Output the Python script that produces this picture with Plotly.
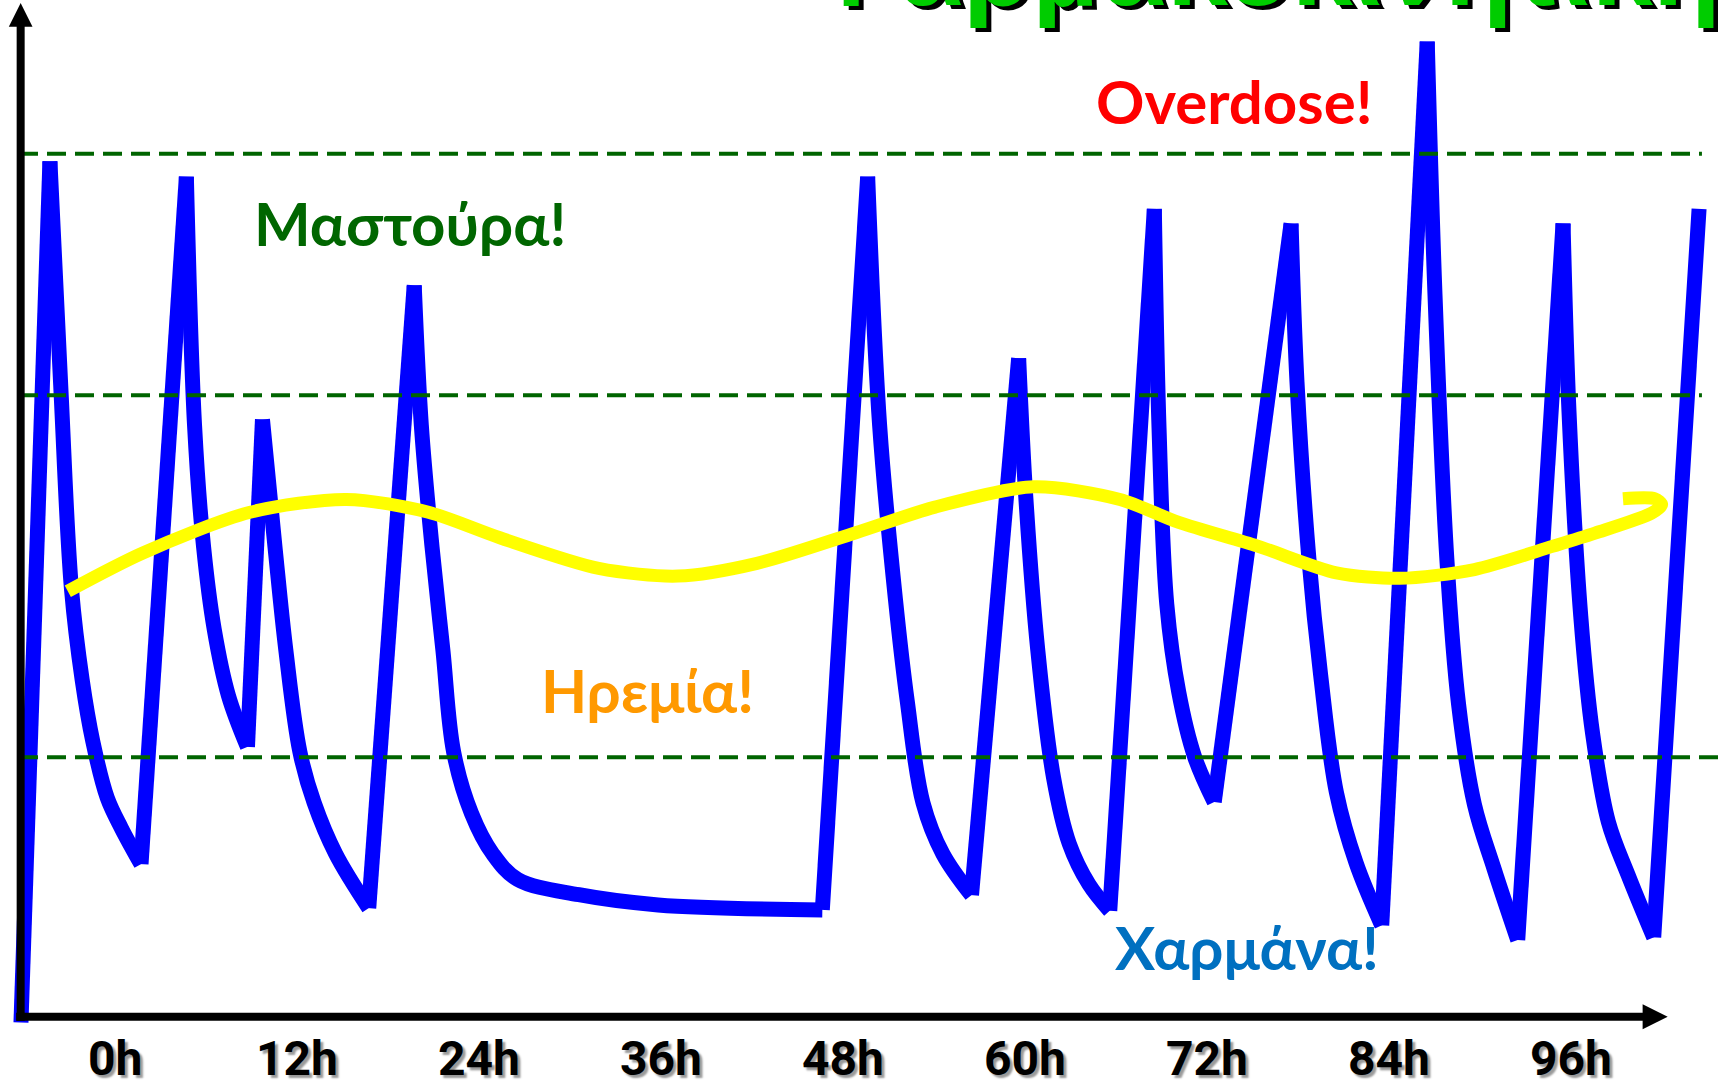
import plotly.graph_objects as go

# ---------------- data (time in hours, level in arbitrary units) ----------------
conc_time = [-6.22, -4.31, -3.6, -2.89, -2.18, -1.48, -0.53, 0.40, 1.70,
             4.69, 5.23, 5.83, 6.53, 7.47, 8.72,
             9.71, 10.54, 11.25, 12.18, 13.12, 14.54, 16.72,
             19.72, 20.19, 20.90, 21.61, 22.32, 23.49, 24.90, 26.55, 30.58, 35.81, 46.64,
             49.63, 50.42, 51.46, 52.24, 53.28, 54.59, 56.48,
             59.59, 60.06, 60.85, 61.89, 62.93, 64.23, 65.60,
             68.54, 68.85, 69.36, 70.15, 71.19, 72.49,
             77.56, 77.95, 78.73, 79.51, 80.55, 81.85, 83.54,
             86.54, 87.05, 87.83, 88.61, 89.65, 90.95, 92.51,
             95.50, 95.89, 96.67, 97.45, 98.49, 99.79, 101.48,
             104.47]
conc_level = [-0.78, 99.14, 73.2, 49.56, 38.95, 31.83, 25.30, 21.79, 17.60,
              97.36, 68.49, 54.32, 44.82, 37.13, 31.2,
              69.19, 54.32, 42.44, 30.61, 24.71, 18.79, 12.5,
              84.75, 68.49, 54.32, 42.44, 30.61, 23.52, 18.79, 15.82, 14.05, 12.87, 12.29,
              97.36, 68.49, 48.36, 36.53, 24.71, 18.79, 14.0,
              76.29, 60.20, 42.44, 27.64, 19.97, 15.25, 12.2,
              93.62, 68.17, 47.76, 37.55, 30.08, 24.8,
              91.93, 73.51, 53.13, 39.52, 25.91, 17.73, 10.5,
              113.03, 83.75, 53.13, 36.11, 24.54, 17.05, 8.8,
              91.93, 70.14, 46.32, 32.72, 22.49, 16.33, 9.1,
              93.62]

trend_time = [-3.13, 1.82, 8.89, 15.25, 20.66, 25.37, 31.89, 37.11, 42.33, 48.85,
              54.07, 60.58, 66.27, 70.15, 75.35, 80.55, 84.71, 89.65, 94.85, 97.61,
              101.34, 102.0, 101.55, 99.45]
trend_level = [49.26, 53.70, 58.42, 59.91, 58.42, 55.46, 51.91, 51.02, 52.50, 56.05,
               59.02, 61.38, 59.91, 57.24, 54.49, 51.40, 50.76, 51.78, 54.49, 56.0,
               58.32, 59.3, 59.99, 59.99]

tick_hours = [0, 12, 24, 36, 48, 60, 72, 84, 96]
tick_labels = ["0h", "12h", "24h", "36h", "48h", "60h", "72h", "84h", "96h"]

threshold_levels = [100, 72, 30]

zone_labels = ["Overdose!", "Μαστούρα!", "Ηρεμία!", "Χαρμάνα!"]
zone_colors = ["#FF0000", "#006600", "#FF9900", "#0070C0"]

title_text = "Φαρμακοκινητική"

# ---------------- layout constants ----------------
X_RANGE = [-7.603, 105.72]
Y_RANGE = [-7.56, 117.85]
AXIS_X = -6.24          # vertical axis position (hours)
AXIS_Y = -0.1           # horizontal axis position (level)
zone_pos = [(73.85, 106.15), (19.44, 92.0), (35.14, 37.78), (74.65, 7.97)]
threshold_end = [104.66, 104.66, X_RANGE[1]]
TICK_LABEL_Y = -4.9

fig = go.Figure()

# split the concentration curve into rises (straight) and decays (smooth)
n = len(conc_level)
turns = [i for i in range(1, n - 1)
         if (conc_level[i] - conc_level[i - 1]) * (conc_level[i + 1] - conc_level[i]) < 0]
bounds = [0] + turns + [n - 1]
for a, b in zip(bounds[:-1], bounds[1:]):
    rising = conc_level[b] > conc_level[a]
    fig.add_trace(go.Scatter(
        x=conc_time[a:b + 1], y=conc_level[a:b + 1], mode="lines",
        line=dict(color="#0000FF", width=15,
                  shape="linear" if rising else "spline",
                  **({} if rising else {"smoothing": 1.0})),
        hoverinfo="skip", cliponaxis=False))

fig.add_trace(go.Scatter(
    x=trend_time, y=trend_level, mode="lines",
    line=dict(color="#FFFF00", width=13, shape="spline", smoothing=0.8),
    hoverinfo="skip", cliponaxis=False))

shapes = []
for lvl, xe in zip(threshold_levels, threshold_end):
    shapes.append(dict(type="line", xref="x", yref="y", x0=-6.35, x1=xe, y0=lvl, y1=lvl,
                       line=dict(color="#006400", width=4, dash="19px,9px"), layer="above"))

# axes with arrows
shapes.append(dict(type="line", xref="x", yref="y", x0=AXIS_X, x1=AXIS_X, y0=-0.6, y1=114.9,
                   line=dict(color="black", width=8), layer="above"))
shapes.append(dict(type="path", xref="x", yref="y",
                   path=f"M {AXIS_X-0.78},114.75 L {AXIS_X+0.78},114.75 L {AXIS_X},117.5 Z",
                   fillcolor="black", line=dict(width=0), layer="above"))
shapes.append(dict(type="line", xref="x", yref="y", x0=AXIS_X - 0.3, x1=100.9, y0=AXIS_Y, y1=AXIS_Y,
                   line=dict(color="black", width=8), layer="above"))
shapes.append(dict(type="path", xref="x", yref="y",
                   path=f"M 100.75,{AXIS_Y-1.45} L 100.75,{AXIS_Y+1.45} L 102.4,{AXIS_Y} Z",
                   fillcolor="black", line=dict(width=0), layer="above"))

annotations = []
for h, lab in zip(tick_hours, tick_labels):
    annotations.append(dict(
        x=h, y=TICK_LABEL_Y, xref="x", yref="y", text=lab, showarrow=False,
        xanchor="center", yanchor="middle",
        font=dict(family="Roboto, Liberation Sans, sans-serif",
                  size=48, color="black", weight="bold", shadow="3px 3px 2px #9a9a9a")))

for lab, col, (px, py) in zip(zone_labels, zone_colors, zone_pos):
    annotations.append(dict(
        x=px, y=py, xref="x", yref="y", text=lab, showarrow=False,
        xanchor="center", yanchor="middle",
        font=dict(family="Lato, Noto Sans, sans-serif", size=60, color=col, weight="bold")))

annotations.append(dict(
    x=0.735, y=0.9725, xref="paper", yref="paper", text=title_text, showarrow=False,
    xanchor="center", yanchor="bottom",
    font=dict(family="Liberation Sans, Arial, sans-serif", size=110, color="#00CC00",
              weight="bold", shadow="5px 4px 0px black")))

fig.update_layout(
    width=1718, height=1081, autosize=False,
    margin=dict(l=0, r=0, t=0, b=0, pad=0),
    paper_bgcolor="white", plot_bgcolor="white",
    showlegend=False,
    xaxis=dict(range=X_RANGE, visible=False, fixedrange=True),
    yaxis=dict(range=Y_RANGE, visible=False, fixedrange=True),
    shapes=shapes, annotations=annotations,
)

fig.write_html("out.html", config={"displayModeBar": False, "staticPlot": True},
               post_script="document.body.style.margin='0';document.body.style.overflow='hidden';")
